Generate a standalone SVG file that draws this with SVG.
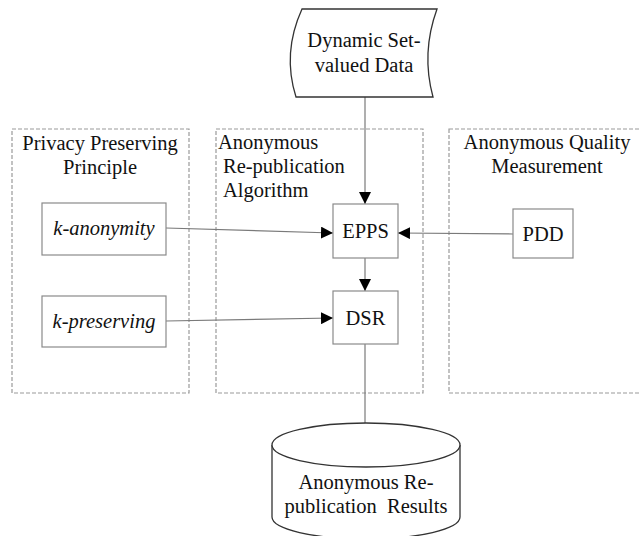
<svg xmlns="http://www.w3.org/2000/svg" width="639" height="536" viewBox="0 0 639 536">
<style>
text{font-family:'Liberation Serif','Times New Roman','DejaVu Serif',serif;font-size:20.5px;fill:#111}
.c{text-anchor:middle}
.i{font-style:italic}
.grp{fill:none;stroke:#9a9a9a;stroke-width:1.2;stroke-dasharray:4,2}
.box{fill:#fff;stroke:#8a8a8a;stroke-width:1.2}
.shape{fill:#fff;stroke:#333;stroke-width:1.3}
.ln{fill:none;stroke:#7a7a7a;stroke-width:1.2}
</style>
<defs>
<marker id="ah" viewBox="0 0 10 10" refX="10" refY="5" markerWidth="12" markerHeight="12" markerUnits="userSpaceOnUse" orient="auto">
<path d="M0,0 L10,5 L0,10 Z" fill="#000"/>
</marker>
</defs>
<rect width="639" height="536" fill="#fff"/>
<g id="group-privacy">
<rect class="grp" x="12" y="129" width="177" height="264"/>
<text class="c" x="100" y="150" font-family="Liberation Serif, serif">Privacy Preserving</text>
<text class="c" x="100" y="174" font-family="Liberation Serif, serif">Principle</text>
</g>
<g id="group-algorithm">
<rect class="grp" x="216" y="129" width="207" height="264"/>
<text x="218" y="149" font-family="Liberation Serif, serif">Anonymous</text>
<text x="223" y="173" font-family="Liberation Serif, serif">Re-publication</text>
<text x="223" y="197" font-family="Liberation Serif, serif">Algorithm</text>
</g>
<g id="group-quality">
<rect class="grp" x="449" y="129" width="200" height="264"/>
<text class="c" x="547" y="149" font-family="Liberation Serif, serif">Anonymous Quality</text>
<text class="c" x="547" y="173" font-family="Liberation Serif, serif">Measurement</text>
</g>
<g id="connectors">
<line class="ln" x1="365" y1="97" x2="365" y2="204" marker-end="url(#ah)"/>
<line class="ln" x1="166" y1="228" x2="333" y2="233" marker-end="url(#ah)"/>
<line class="ln" x1="513" y1="234" x2="398" y2="233" marker-end="url(#ah)"/>
<line class="ln" x1="365" y1="258" x2="365" y2="291" marker-end="url(#ah)"/>
<line class="ln" x1="166" y1="321" x2="333" y2="318" marker-end="url(#ah)"/>
<line class="ln" x1="365" y1="344" x2="365" y2="446" marker-end="url(#ah)"/>
</g>
<g id="node-data">
<path class="shape" d="M302,9 L437,9 Q421,53 433,97 L296,97 Q282,53 302,9 Z"/>
<text class="c" x="364" y="47" font-family="Liberation Serif, serif">Dynamic Set-</text>
<text class="c" x="364" y="72" font-family="Liberation Serif, serif">valued Data</text>
</g>
<g id="node-kanonymity">
<rect class="box" x="42" y="203" width="124" height="52"/>
<text class="c i" x="104" y="235" font-family="Liberation Serif, serif">k-anonymity</text>
</g>
<g id="node-kpreserving">
<rect class="box" x="42" y="296" width="124" height="51"/>
<text class="c i" x="104" y="328" font-family="Liberation Serif, serif">k-preserving</text>
</g>
<g id="node-epps">
<rect class="box" x="333" y="204" width="65" height="54"/>
<text class="c" x="365.5" y="238" font-family="Liberation Serif, serif">EPPS</text>
</g>
<g id="node-dsr">
<rect class="box" x="333" y="291" width="65" height="53"/>
<text class="c" x="365.5" y="325" font-family="Liberation Serif, serif">DSR</text>
</g>
<g id="node-pdd">
<rect class="box" x="513" y="209" width="60" height="49"/>
<text class="c" x="543" y="241" font-family="Liberation Serif, serif">PDD</text>
</g>
<g id="node-results">
<path class="shape" d="M272,445 L272,517 A94,22 0 0 0 460,517 L460,445"/>
<ellipse class="shape" cx="366" cy="445" rx="94" ry="22" fill="none"/>
<text class="c" x="366" y="489" font-family="Liberation Serif, serif">Anonymous Re-</text>
<text class="c" x="366" y="513" xml:space="preserve" font-family="Liberation Serif, serif">publication  Results</text>
</g>
</svg>
